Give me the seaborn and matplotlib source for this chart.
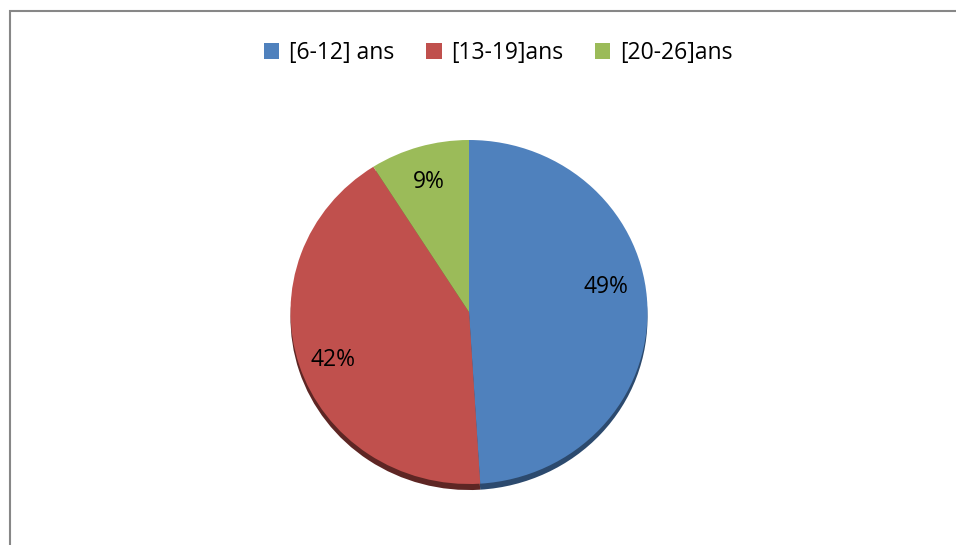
import matplotlib
matplotlib.use("Agg")
import matplotlib.pyplot as plt
import seaborn as sns
from matplotlib.patches import Rectangle, Patch

# Age groups and their shares (%)
categories = ["[6-12] ans", "[13-19]ans", "[20-26]ans"]
shares = [49, 42, 9]
colors = ["#4F81BD", "#C0504D", "#9BBB59"]
rim_colors = ["#2C4A6E", "#5E2624", "#55692F"]

sns.set_theme(style="white")
plt.rcParams["font.family"] = ["Open Sans", "DejaVu Sans"]
plt.rcParams["text.color"] = "black"

W, H = 956, 545
fig = plt.figure(figsize=(W / 100, H / 100), dpi=100)
fig.patch.set_facecolor("white")

# pie placement in pixels
cx, cy, rx, ry = 469, 312, 178.5, 172
pad = 1.1
ax = fig.add_axes([
    (cx - pad * rx) / W,
    (H - cy - pad * ry) / H,
    2 * pad * rx / W,
    2 * pad * ry / H,
])

# darker rim below the disc for a slight tilted look
ax.pie(shares, colors=rim_colors, startangle=90, counterclock=False,
       radius=1.0, center=(0.0, -0.035),
       wedgeprops=dict(linewidth=0))

wedges, texts, autotexts = ax.pie(
    shares, colors=colors, startangle=90, counterclock=False,
    radius=1.0, autopct="%d%%", pctdistance=0.8,
    wedgeprops=dict(linewidth=0),
    textprops=dict(fontsize=16.5, color="black"),
)

# small nudges so the percentages sit a bit off the wedge bisectors
nudges = [(-0.03, 0.12), (0.0, -0.03), (0.0, -0.01)]
for t, (dx, dy) in zip(autotexts, nudges):
    x, y = t.get_position()
    t.set_position((x + dx, y + dy))

ax.set_xlim(-pad, pad)
ax.set_ylim(-pad, pad)
ax.set_aspect("auto")
ax.axis("off")

handles = [Patch(facecolor=c, edgecolor="none") for c in colors]
fig.legend(handles, categories, loc="center", bbox_to_anchor=(498 / W, 1 - 53 / H),
           ncol=3, frameon=False, fontsize=16.5, handlelength=0.68,
           handleheight=0.68, handletextpad=0.4, columnspacing=1.4,
           labelcolor="black")

# chart frame
fig.add_artist(Rectangle((9.5 / W, -0.05), 1.1, 1 - 10.5 / H + 0.05,
                         transform=fig.transFigure, fill=False,
                         edgecolor="#878787", linewidth=1.5))

fig.savefig("out.png", dpi=100, facecolor="white")
